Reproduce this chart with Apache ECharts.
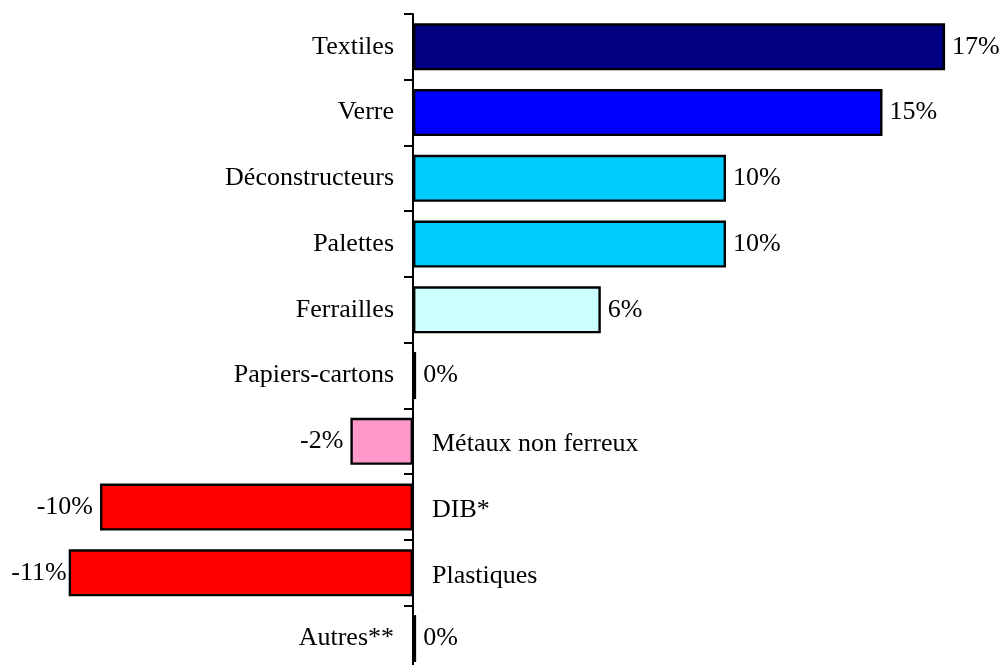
<!DOCTYPE html>
<html>
<head>
<meta charset="utf-8">
<script src="https://cdn.jsdelivr.net/npm/echarts@6/dist/echarts.min.js"></script>
<style>html,body{margin:0;padding:0;background:#fff;overflow:hidden;height:665px}#c{width:1003px;height:672px}</style>
</head>
<body>
<div id="c"></div>
<script>
const categories = ['Textiles','Verre','Déconstructeurs','Palettes','Ferrailles','Papiers-cartons','Métaux non ferreux','DIB*','Plastiques','Autres**'];
const values = [17, 15, 10, 10, 6, 0.1, -2, -10, -11, 0.1];
const valueLabels = ['17%','15%','10%','10%','6%','0%','-2%','-10%','-11%','0%'];
const colors = ['#000080','#0000FF','#00CCFF','#00CCFF','#CCFFFF','#000000','#FF99CC','#FF0000','#FF0000','#800080'];

const FONT = 'Liberation Serif';
const FS = 26;
const chart = echarts.init(document.getElementById('c'));

const barData = values.map((v, i) => ({
  value: v,
  itemStyle: { color: colors[i] },
  label: {
    position: v < 0 ? 'left' : 'right',
    distance: i === 8 ? 2 : 7
  }
}));
const nameData = values.map((v, i) => ({
  value: 0,
  label: { position: v < 0 ? 'right' : 'left', offset: v < 0 ? [0, 3] : [0, 0] }
}));

chart.setOption({
  animation: false,
  grid: { left: 37.4, right: 26.6, top: 14, bottom: 0.6, containLabel: false },
  xAxis: { type: 'value', min: -12, max: 18, show: false },
  yAxis: {
    type: 'category', data: categories, inverse: true,
    axisLine: { onZero: true, lineStyle: { color: '#000', width: 2 } },
    axisTick: { show: true, inside: false, length: 9, lineStyle: { color: '#000', width: 2 } },
    axisLabel: { show: false },
    splitLine: { show: false }
  },
  series: [
    {
      type: 'bar', data: barData, barWidth: 47,
      itemStyle: { borderColor: '#000', borderWidth: 2.4 },
      label: {
        show: true, fontFamily: FONT, fontSize: FS, color: '#000',
        formatter: p => valueLabels[p.dataIndex]
      },
      z: 2
    },
    {
      type: 'bar', data: nameData, barWidth: 47, barGap: '-100%',
      itemStyle: { color: 'rgba(0,0,0,0)' },
      label: {
        show: true, fontFamily: FONT, fontSize: FS, color: '#000', distance: 19,
        formatter: p => categories[p.dataIndex]
      },
      silent: true, z: 3
    }
  ]
});
</script>
</body>
</html>
